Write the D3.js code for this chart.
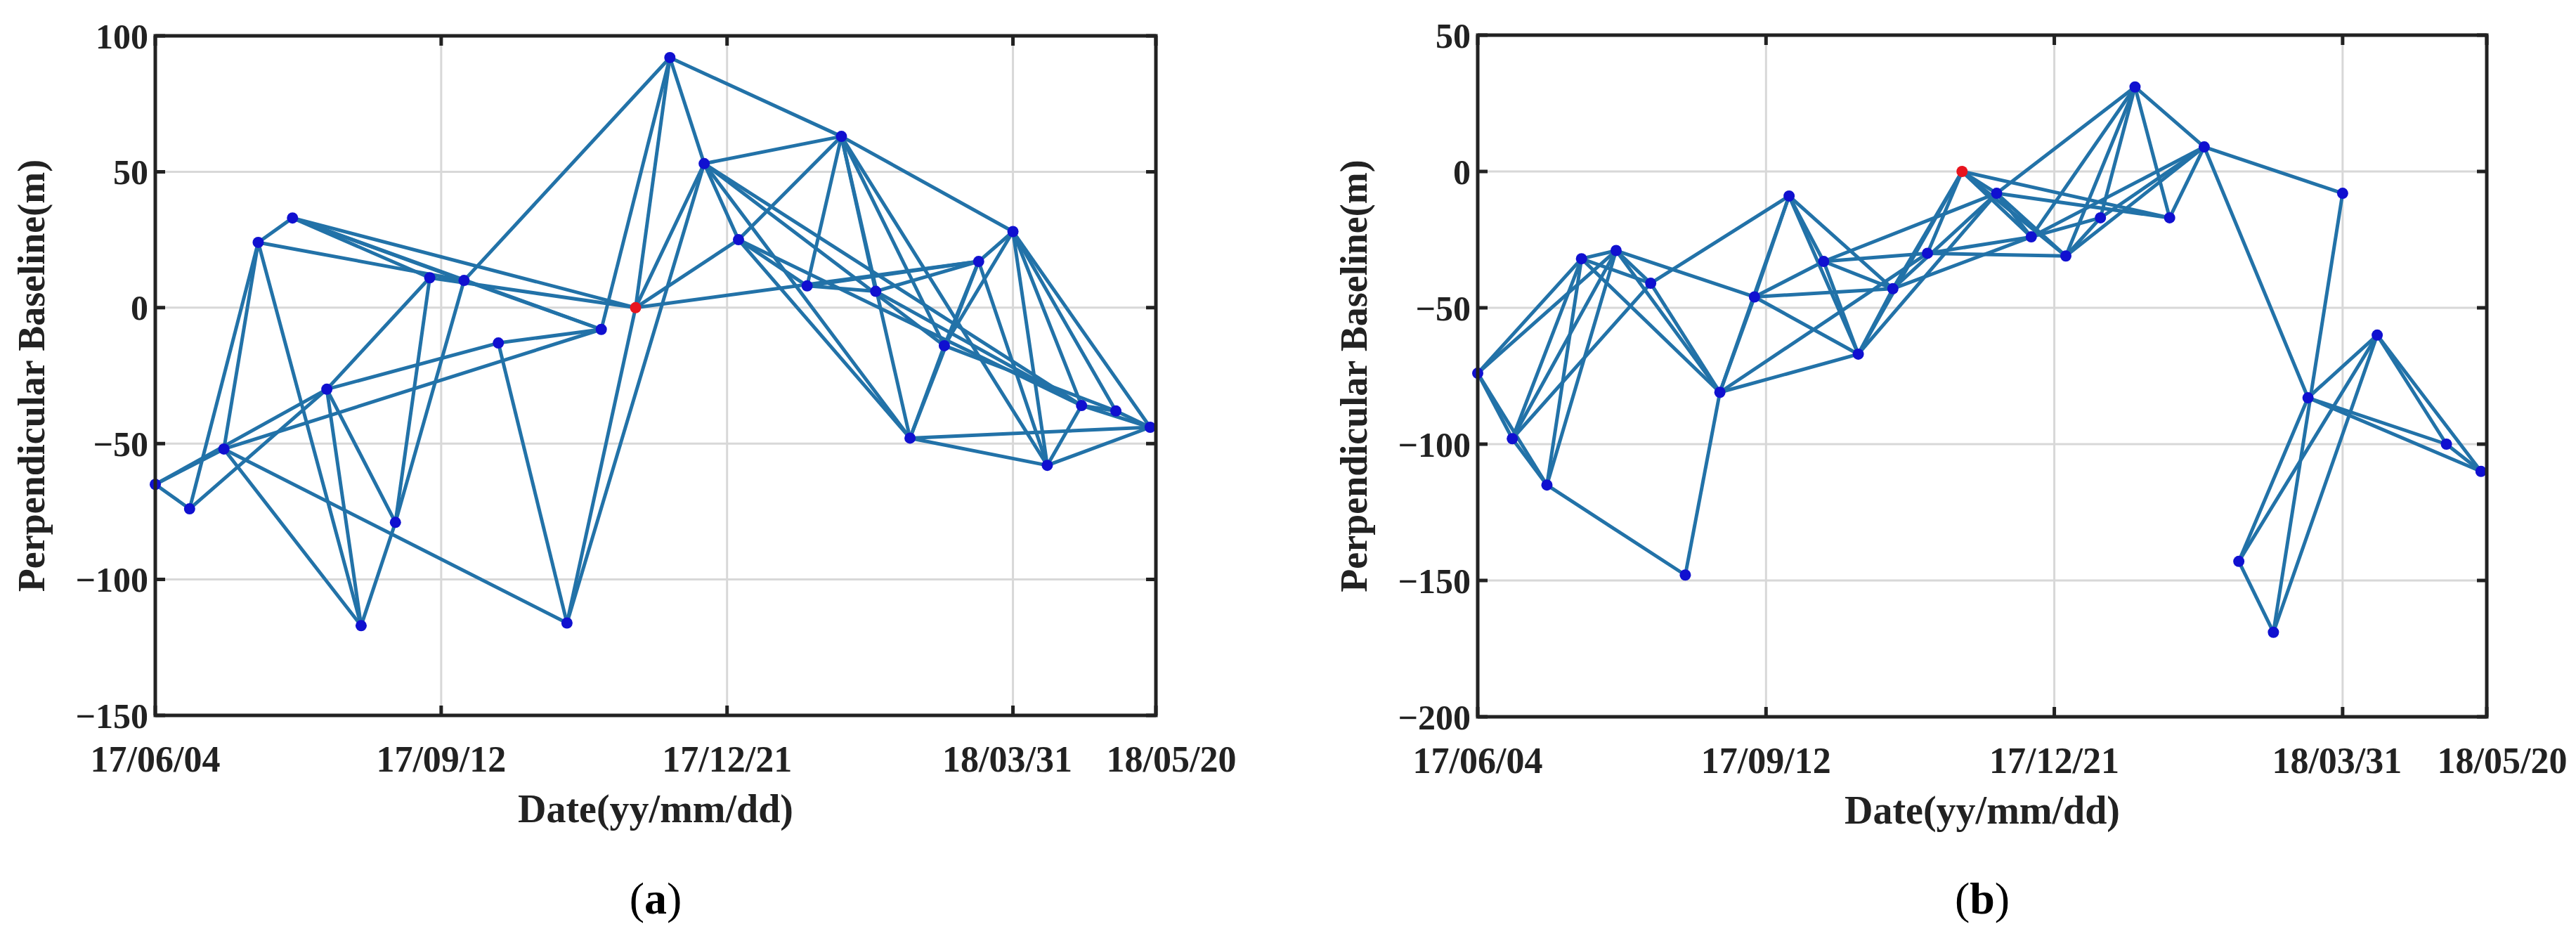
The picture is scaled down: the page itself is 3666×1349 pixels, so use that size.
<!DOCTYPE html>
<html><head><meta charset="utf-8">
<script src="https://cdn.jsdelivr.net/npm/d3@7"></script>
<style>body{margin:0;background:#fff}svg{display:block}</style>
</head><body>
<svg id="chart" width="3666" height="1349"></svg>
<script>
// x ticks (days since 17/06/04)
const tickDays = [0, 100, 200, 300, 350];
const tickLabels = ["17/06/04", "17/09/12", "17/12/21", "18/03/31", "18/05/20"];

// panel (a): acquisition day, perpendicular baseline
const daysA = [0,12,24,36,48,60,72,84,96,108,120,144,156,168,180,192,204,228,240,252,264,276,288,300,312,324,336,348];
const bperpA = [-65,-74,-52,24,33,-30,-117,-79,11,10,-13,-116,-8,0,92,53,25,8,63,6,-48,-14,17,28,-58,-36,-38,-44];
const masterA = 13;
const edgesA = [[0,1],[0,2],[0,5],[1,3],[1,5],[2,3],[2,6],[2,11],[2,12],[3,4],[3,6],[3,9],[4,8],[4,9],[4,12],[4,13],[5,6],
  [5,8],[5,10],[5,7],[7,8],[7,9],[6,7],[8,13],[9,12],[9,14],[10,11],[10,12],[11,13],[11,15],[12,14],[13,14],[13,15],[13,16],[13,22],
  [14,15],[14,18],[15,16],[15,18],[15,20],[15,21],[15,25],[16,17],[16,18],[16,20],[16,25],[17,18],[17,19],[17,22],
  [18,19],[18,20],[18,21],[18,23],[18,24],[19,22],[19,25],[20,21],[20,22],[20,24],[20,27],[21,22],[21,23],[21,26],
  [22,23],[22,24],[23,24],[23,25],[23,26],[23,27],[24,25],[24,27],[25,26],[25,27],[26,27]];

// panel (b)
const daysB = [0,12,24,36,48,60,72,84,96,108,120,132,144,156,168,180,192,204,216,228,240,252,264,276,288,300,312,336,348];
const bperpB = [-74,-98,-115,-32,-29,-41,-148,-81,-46,-9,-33,-67,-43,-30,0,-8,-24,-31,-17,31,-17,9,-143,-169,-83,-8,-60,-100,-110];
const masterB = 14;
const edgesB = [[0,1],[0,2],[0,3],[0,4],[1,2],[1,3],[1,4],[1,5],[2,3],[2,4],[2,6],[3,4],[3,5],[3,7],[4,5],[4,7],[4,8],
  [5,7],[5,9],[6,7],[7,8],[7,9],[7,11],[7,13],[8,9],[8,10],[8,11],[8,12],[9,10],[9,11],[9,12],[10,12],[10,11],[10,13],[10,15],
  [11,12],[11,14],[11,15],[12,14],[12,15],[13,14],[13,16],[13,17],[12,16],[14,15],[14,16],[14,17],[14,20],[15,16],[15,17],
  [15,19],[15,20],[16,18],[16,19],[16,21],[17,18],[17,19],[17,21],[18,19],[18,21],[19,20],[19,21],[20,21],[21,24],[21,25],
  [22,23],[22,24],[22,26],[23,25],[23,26],[24,26],[24,27],[26,27],[26,28],[27,28],[24,28]];

const svg = d3.select("#chart");
const font = "'Liberation Serif','Times New Roman',serif";

function panel(o) {
  const x = d3.scaleLinear().domain([0, 350]).range([o.left, o.right]);
  const y = d3.scaleLinear().domain(o.yDomain).range([o.bottom, o.top]);
  const g = svg.append("g");

  // grid
  g.selectAll(".gx").data(tickDays.slice(1, -1)).join("line")
    .attr("x1", d => x(d)).attr("x2", d => x(d)).attr("y1", o.top).attr("y2", o.bottom)
    .attr("stroke", "#d8d8d8").attr("stroke-width", 3);
  g.selectAll(".gy").data(o.yTicks.slice(1, -1)).join("line")
    .attr("x1", o.left).attr("x2", o.right).attr("y1", d => y(d)).attr("y2", d => y(d))
    .attr("stroke", "#d8d8d8").attr("stroke-width", 3);

  // edges
  g.selectAll(".e").data(o.edges).join("line")
    .attr("x1", d => x(o.days[d[0]])).attr("y1", d => y(o.bperp[d[0]]))
    .attr("x2", d => x(o.days[d[1]])).attr("y2", d => y(o.bperp[d[1]]))
    .attr("stroke", "#2272a8").attr("stroke-width", 5);

  // nodes
  g.selectAll(".n").data(o.days).join("circle")
    .attr("cx", d => x(d)).attr("cy", (d, i) => y(o.bperp[i])).attr("r", 8)
    .attr("fill", (d, i) => i === o.master ? "#e8141e" : "#1010d0");

  // frame + ticks
  g.append("rect").attr("x", o.left).attr("y", o.top)
    .attr("width", o.right - o.left).attr("height", o.bottom - o.top)
    .attr("fill", "none").attr("stroke", "#222").attr("stroke-width", 5);
  const tl = 14;
  g.selectAll(".ty").data(o.yTicks).join("path")
    .attr("d", d => `M${o.left},${y(d)}h${tl}M${o.right},${y(d)}h${-tl}`)
    .attr("stroke", "#222").attr("stroke-width", 5);
  g.selectAll(".tx").data(tickDays).join("path")
    .attr("d", d => `M${x(d)},${o.bottom}v${-tl}M${x(d)},${o.top}v${tl}`)
    .attr("stroke", "#222").attr("stroke-width", 5);

  // labels
  g.selectAll(".ly").data(o.yTicks).join("text")
    .attr("x", o.left - 10).attr("y", d => y(d)).attr("dy", "0.35em")
    .attr("text-anchor", "end").attr("font-family", font).attr("font-weight", "bold")
    .attr("font-size", 50).attr("fill", "#222").text(d => d < 0 ? "\u2212" + (-d) : d);
  g.selectAll(".lx").data(tickDays).join("text")
    .attr("x", (d, i) => x(d) + (i === 4 ? 22 : i === 3 ? -8 : 0)).attr("y", o.bottom + 80)
    .attr("text-anchor", "middle").attr("font-family", font).attr("font-weight", "bold")
    .attr("font-size", 52).attr("fill", "#222").text((d, i) => tickLabels[i]);
  g.append("text").attr("x", (o.left + o.right) / 2).attr("y", o.bottom + 152)
    .attr("text-anchor", "middle").attr("font-family", font).attr("font-weight", "bold")
    .attr("font-size", 56).attr("fill", "#222").text("Date(yy/mm/dd)");
  g.append("text").attr("transform", `translate(${o.left - 158},${(o.top + o.bottom) / 2}) rotate(-90)`)
    .attr("text-anchor", "middle").attr("font-family", font).attr("font-weight", "bold")
    .attr("font-size", 54).attr("fill", "#222").text("Perpendicular Baseline(m)");
  const cap = g.append("text").attr("x", (o.left + o.right) / 2).attr("y", 1300)
    .attr("text-anchor", "middle").attr("font-family", font).attr("font-size", 64).attr("fill", "#000");
  cap.append("tspan").text("(");
  cap.append("tspan").attr("font-weight", "bold").text(o.tag);
  cap.append("tspan").text(")");
}

panel({left: 221, right: 1645, top: 51, bottom: 1018, yDomain: [-150, 100], yTicks: [-150, -100, -50, 0, 50, 100],
  days: daysA, bperp: bperpA, edges: edgesA, master: masterA, tag: "a"});
panel({left: 2103, right: 3539, top: 50, bottom: 1020, yDomain: [-200, 50], yTicks: [-200, -150, -100, -50, 0, 50],
  days: daysB, bperp: bperpB, edges: edgesB, master: masterB, tag: "b"});
</script>
</body></html>
